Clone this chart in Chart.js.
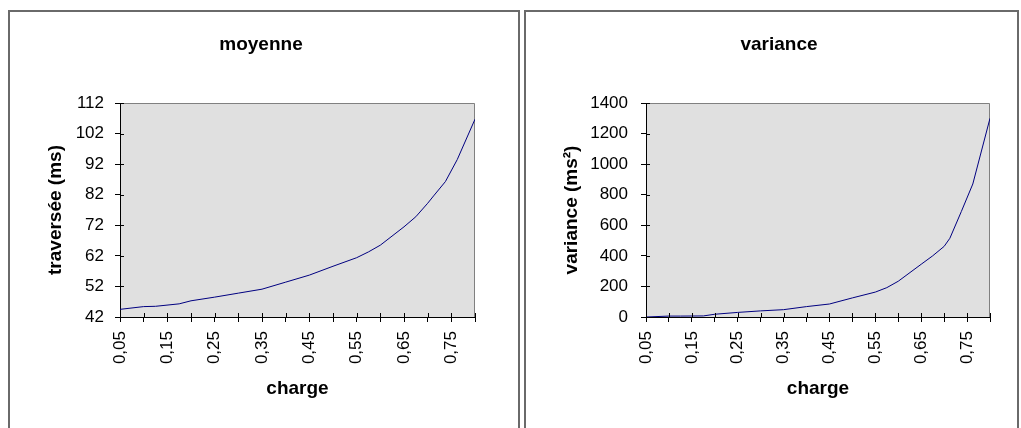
<!DOCTYPE html>
<html>
<head>
<meta charset="utf-8">
<script src="https://cdn.jsdelivr.net/npm/chart.js@4.4.1/dist/chart.umd.min.js"></script>
<style>
  html, body { margin: 0; padding: 0; background: #fff; overflow: hidden; }
  .panel { position: absolute; top: 10px; height: 440px; border: 2px solid #6a6a6a; overflow: hidden; background: #fff; }
  #p1 { left: 8px; width: 508px; }
  #p2 { left: 524px; width: 491px; }
  canvas { position: absolute; left: 0; top: 0; }
</style>
</head>
<body>
<div class="panel" id="p1"><canvas id="c1" width="502" height="420"></canvas></div>
<div class="panel" id="p2"><canvas id="c2" width="508" height="420"></canvas></div>
<script>
const charge = [0.05, 0.1, 0.125, 0.175, 0.2, 0.25, 0.3, 0.35, 0.4, 0.45, 0.5, 0.55, 0.575, 0.6, 0.65, 0.675, 0.7, 0.7125, 0.7375, 0.7625, 0.8];
const moyenne = [44.5, 45.4, 45.5, 46.3, 47.3, 48.5, 49.8, 51.1, 53.4, 55.7, 58.6, 61.4, 63.3, 65.5, 71.5, 74.8, 79.2, 81.6, 86.3, 93.5, 106.7];
const variance = [0, 6, 6, 7, 18, 30, 40, 48, 68, 85, 125, 163, 192, 234, 345, 400, 462, 515, 690, 870, 1300];

const xMin = 0.05, xMax = 0.8, xStep = 0.05;
const moyMin = 42, moyMax = 112, moyStep = 10;
const varMin = 0, varMax = 1400, varStep = 200;

const FONT = "'Liberation Sans', Arial, sans-serif";

// fond gris de la zone de tracé + graduations croisées
const plotBg = {
  id: 'plotBg',
  beforeDraw(chart) {
    const { ctx, chartArea: a } = chart;
    ctx.save();
    ctx.fillStyle = '#e0e0e0';
    ctx.fillRect(a.left, a.top, a.right - a.left, a.bottom - a.top);
    ctx.strokeStyle = '#808080';
    ctx.lineWidth = 1;
    ctx.beginPath();
    ctx.moveTo(a.left, a.top + 0.5);
    ctx.lineTo(a.right - 0.5, a.top + 0.5);
    ctx.lineTo(a.right - 0.5, a.bottom);
    ctx.stroke();
    ctx.restore();
  },
  afterDraw(chart) {
    const { ctx, chartArea: a, scales } = chart;
    ctx.save();
    ctx.strokeStyle = '#000';
    ctx.lineWidth = 1;
    ctx.beginPath();
    scales.x.ticks.forEach(t => {
      const px = Math.round(scales.x.getPixelForValue(t.value)) + 0.5;
      ctx.moveTo(px, a.bottom);
      ctx.lineTo(px, a.bottom - 4);
    });
    scales.y.ticks.forEach(t => {
      const py = Math.round(scales.y.getPixelForValue(t.value)) + 0.5;
      ctx.moveTo(a.left, py);
      ctx.lineTo(a.left + 4, py);
    });
    ctx.stroke();
    ctx.restore();
  }
};

function makeChart(id, opts) {
  const points = charge.map((c, i) => ({ x: c, y: opts.values[i] }));
  return new Chart(document.getElementById(id), {
    type: 'line',
    data: {
      datasets: [{
        data: points,
        borderColor: '#000080',
        borderWidth: 1,
        pointRadius: 0,
        tension: 0,
        fill: false
      }]
    },
    options: {
      responsive: false,
      animation: false,
      layout: { padding: { left: opts.padLeft, right: opts.padRight, top: 0, bottom: 0 } },
      plugins: {
        legend: { display: false },
        tooltip: { enabled: false },
        title: {
          display: true,
          text: opts.title,
          color: '#000',
          font: { family: FONT, size: 19, weight: 'bold', lineHeight: 1.2 },
          padding: { top: 21, bottom: 47.2 }
        }
      },
      scales: {
        x: {
          type: 'linear',
          min: xMin,
          max: xMax,
          afterFit(scale) { scale.height = 115; },
          border: { display: true, color: '#000', width: 1 },
          grid: { drawOnChartArea: false, drawTicks: true, tickLength: 5, tickColor: '#000' },
          ticks: {
            stepSize: xStep,
            autoSkip: false,
            maxRotation: 90,
            minRotation: 90,
            padding: 9,
            color: '#000',
            font: { family: FONT, size: 17 },
            callback(v) {
              const i = Math.round((v - xMin) / xStep);
              if (i % 2 !== 0 || v > 0.76) return '';
              return v.toFixed(2).replace('.', ',');
            }
          },
          title: {
            display: true,
            text: 'charge',
            color: '#000',
            font: { family: FONT, size: 19, weight: 'bold', lineHeight: 1.2 },
            padding: { top: 0, bottom: 31.5 }
          }
        },
        y: {
          min: opts.yMin,
          max: opts.yMax,
          afterFit(scale) { scale.width = opts.yLeft - opts.padLeft; },
          border: { display: true, color: '#000', width: 1 },
          grid: { drawOnChartArea: false, drawTicks: true, tickLength: 5, tickColor: '#000' },
          ticks: {
            stepSize: opts.yStep,
            padding: opts.tickPad,
            color: '#000',
            font: { family: FONT, size: 17 },
            callback: v => String(v)
          },
          title: {
            display: true,
            text: opts.yTitle,
            color: '#000',
            font: { family: FONT, size: 19, weight: 'bold', lineHeight: 1 },
            padding: { top: opts.yTitleX - opts.padLeft - 9.5, bottom: 0 }
          }
        }
      }
    },
    plugins: [plotBg]
  });
}

makeChart('c1', {
  title: 'moyenne', yTitle: 'traversée (ms)', values: moyenne,
  yMin: moyMin, yMax: moyMax, yStep: moyStep,
  yLeft: 110, padLeft: 37, padRight: 37, tickPad: 11, yTitleX: 45.5
});

makeChart('c2', {
  title: 'variance', yTitle: 'variance (ms²)', values: variance,
  yMin: varMin, yMax: varMax, yStep: varStep,
  yLeft: 120, padLeft: 42, padRight: 44, tickPad: 13, yTitleX: 45.5
});
</script>
</body>
</html>
